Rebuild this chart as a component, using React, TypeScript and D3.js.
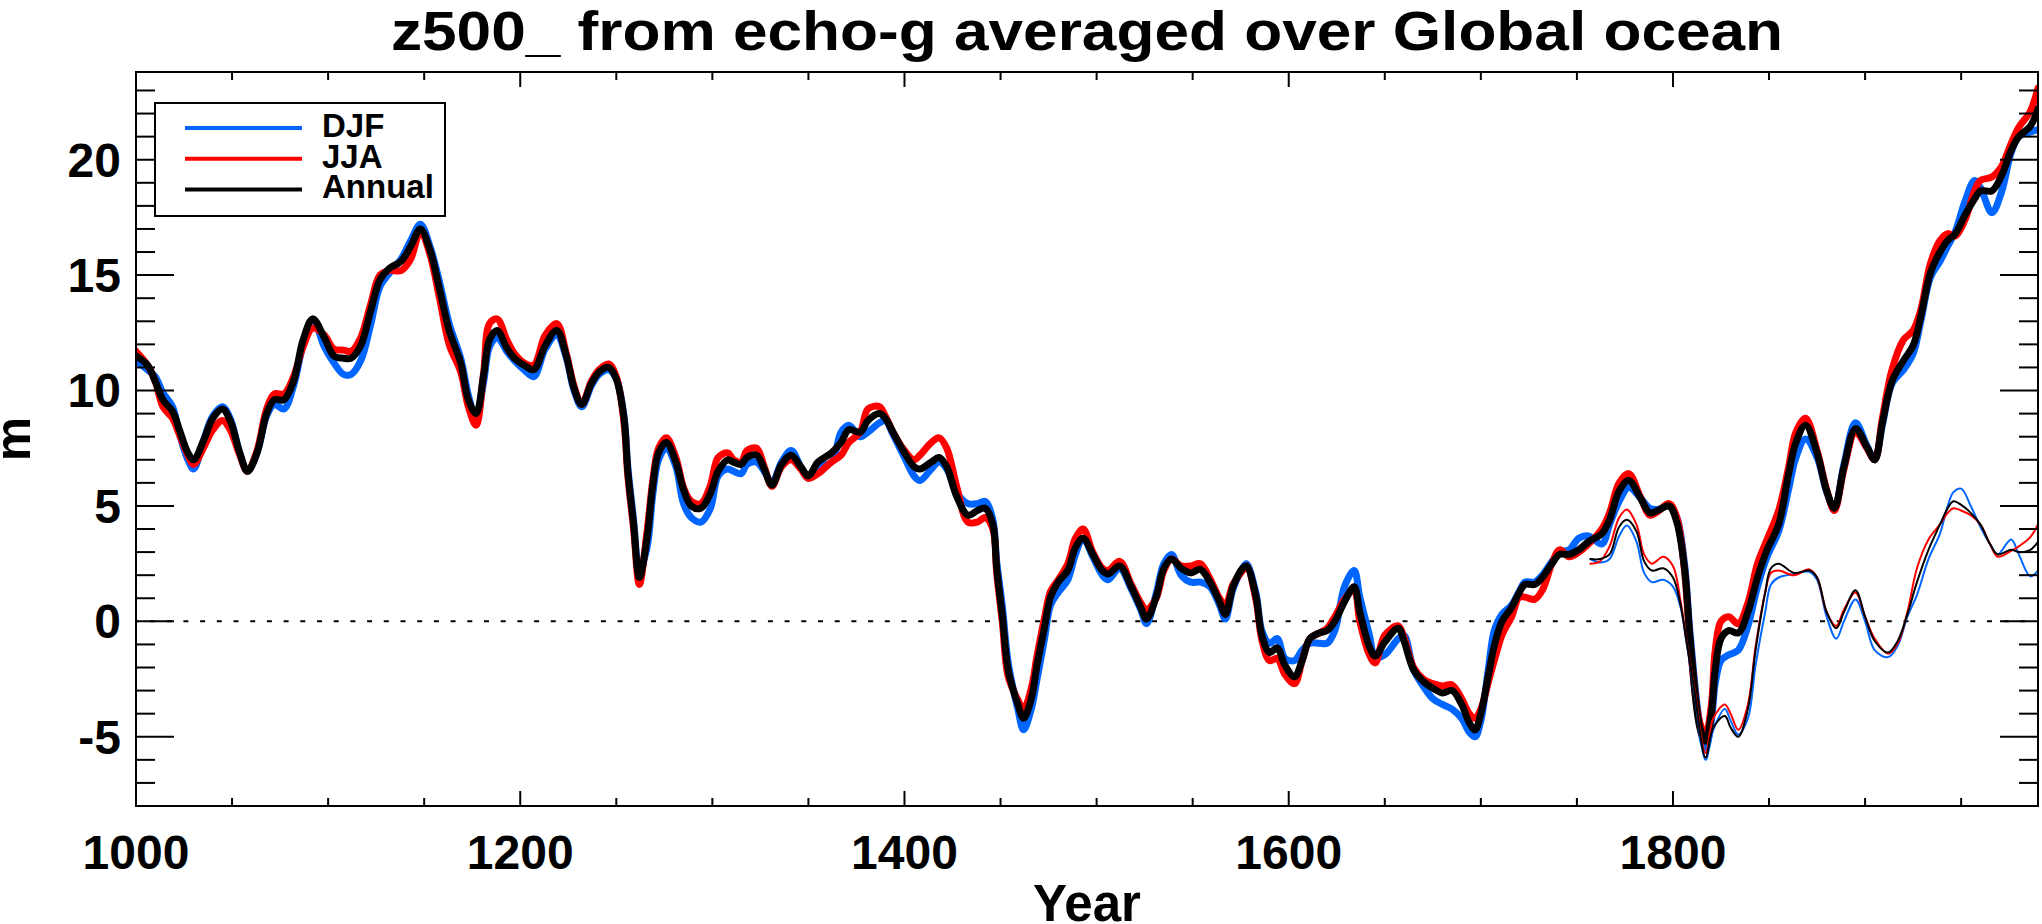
import * as d3 from 'd3'

const WIDTH = 2042
const HEIGHT = 924
const MARGIN = {top: 72, right: 4, bottom: 118, left: 136}

const TITLE = 'z500_ from echo-g averaged over Global ocean'
const SERIES_NAMES = ['DJF', 'JJA', 'Annual']
const COLORS = ['#0066ff', '#ff0000', '#000000']

// model run (thick lines)
const years = [
  1000, 1006, 1010, 1014, 1019, 1023, 1027, 1030, 1035, 1040, 1045, 1049, 1054, 1058, 1063, 1068,
  1072, 1077, 1082, 1087, 1092, 1098, 1103, 1108, 1112, 1117, 1122, 1127, 1132, 1138, 1143, 1148,
  1153, 1158, 1163, 1169, 1173, 1177, 1181, 1184, 1188, 1193, 1197, 1202, 1207, 1213, 1219, 1224,
  1228, 1232, 1237, 1241, 1246, 1250, 1254, 1256, 1259, 1262, 1266, 1269, 1272, 1276, 1281, 1285,
  1289, 1294, 1299, 1303, 1308, 1311, 1315, 1318, 1323, 1327, 1331, 1336, 1341, 1346, 1350, 1355,
  1362, 1367, 1371, 1377, 1381, 1387, 1390, 1394, 1400, 1405, 1408, 1414, 1418, 1422, 1427, 1433,
  1438, 1442, 1446, 1448, 1451, 1454, 1459, 1462, 1466, 1469, 1473, 1476, 1480, 1485, 1489, 1493,
  1498, 1503, 1506, 1512, 1518, 1523, 1526, 1531, 1535, 1539, 1544, 1549, 1554, 1559, 1564, 1567,
  1571, 1576, 1578, 1583, 1586, 1590, 1594, 1598, 1603, 1607, 1611, 1616, 1620, 1624, 1629, 1634,
  1637, 1642, 1645, 1650, 1657, 1660, 1665, 1670, 1675, 1680, 1685, 1690, 1694, 1697, 1700, 1704,
  1707, 1711, 1716, 1720, 1723, 1728, 1732, 1737, 1741, 1746, 1751, 1756, 1763, 1767, 1772, 1777,
  1783, 1788, 1792, 1798, 1802, 1806, 1809, 1814, 1817, 1820, 1822, 1825, 1829, 1834, 1839, 1844,
  1849, 1855, 1860, 1864, 1869, 1875, 1880, 1884, 1889, 1895, 1901, 1905, 1909, 1914, 1920, 1925,
  1929, 1934, 1939, 1943, 1947, 1952, 1957, 1960, 1966, 1971, 1976, 1980, 1986, 1990,
]
const djf = [
  11.3, 10.9, 10.6, 9.9, 9.3, 8.0, 7.0, 6.6, 7.8, 8.9, 9.3, 8.8, 7.3, 6.5, 7.3, 8.9,
  9.4, 9.2, 10.2, 12.0, 13.1, 11.9, 11.2, 10.7, 10.7, 11.3, 12.8, 14.5, 15.1, 15.7, 16.5, 17.2,
  16.25, 14.7, 12.9, 11.4, 9.8, 8.8, 10.4, 11.9, 12.3, 11.7, 11.3, 10.9, 10.6, 11.8, 12.4, 11.4,
  10.0, 9.3, 10.2, 10.7, 10.9, 10.5, 8.9, 6.7, 4.4, 2.2, 3.2, 5.5, 7.0, 7.5, 6.7, 5.1,
  4.5, 4.3, 4.9, 6.3, 6.6, 6.5, 6.4, 6.8, 6.9, 6.5, 6.0, 6.9, 7.4, 6.7, 6.2, 6.7,
  6.9, 8.2, 8.5, 8.0, 8.2, 8.6, 8.7, 8.1, 7.1, 6.3, 6.1, 6.6, 6.9, 6.6, 5.6, 5.1,
  5.1, 5.2, 4.4, 2.6, 0.6, -1.8, -3.8, -4.7, -3.8, -2.5, -0.7, 0.7, 1.25, 1.8, 2.9, 3.6,
  2.8, 2.0, 1.8, 2.3, 1.4, 0.5, -0.1, 1.2, 2.5, 2.9, 2.0, 1.7, 1.7, 1.5, 0.7, 0.1,
  1.4, 2.3, 2.5, 1.2, -0.4, -0.95, -0.75, -1.6, -1.7, -1.25, -0.95, -0.95, -0.95, -0.4, 1.5, 2.2,
  1.05, -0.6, -1.55, -1.45, -0.75, -0.6, -2.1, -2.8, -3.35, -3.6, -3.8, -4.2, -4.8, -5.0, -4.3, -2.0,
  -0.4, 0.3, 0.7, 1.3, 1.7, 1.7, 2.0, 2.6, 3.0, 3.1, 3.6, 3.7, 3.35, 4.2, 5.2, 5.8,
  5.35, 4.9, 4.85, 5.0, 4.5, 2.5, -0.6, -4.5, -5.5, -4.3, -2.7, -1.7, -1.45, -1.25, -0.2, 1.5,
  2.8, 3.9, 5.65, 7.1, 7.9, 7.1, 5.6, 4.9, 6.8, 8.6, 7.6, 7.0, 8.5, 10.3, 10.9, 11.6,
  13.0, 14.9, 15.6, 16.25, 16.9, 18.2, 19.1, 18.8, 17.7, 18.6, 20.3, 21.0, 21.2, 21.3,
]
const jja = [
  11.7, 11.1, 10.4, 9.3, 8.8, 8.0, 7.2, 6.8, 7.5, 8.3, 8.7, 8.3, 7.2, 6.5, 7.4, 9.2,
  9.85, 9.85, 10.6, 11.9, 12.7, 12.4, 11.8, 11.75, 11.7, 12.3, 13.7, 15.0, 15.2, 15.2, 15.7, 16.9,
  15.9, 14.0, 12.0, 10.8, 9.3, 8.5, 10.8, 12.9, 13.1, 12.2, 11.6, 11.2, 11.1, 12.4, 12.9, 11.6,
  10.2, 9.4, 10.4, 10.9, 11.15, 10.6, 8.6, 6.3, 4.0, 1.6, 3.9, 6.1, 7.5, 7.95, 7.1, 5.8,
  5.2, 5.1, 5.9, 7.1, 7.3, 7.0, 6.9, 7.4, 7.5, 6.7, 5.85, 6.7, 7.0, 6.6, 6.2, 6.4,
  6.9, 7.2, 7.75, 8.2, 9.2, 9.3, 8.9, 8.2, 7.4, 7.0, 7.2, 7.75, 7.95, 7.5, 5.9, 4.3,
  4.3, 4.5, 4.0, 2.1, -0.1, -2.4, -3.4, -3.8, -2.9, -1.5, 0.2, 1.3, 1.8, 2.5, 3.6, 4.0,
  3.0, 2.3, 2.2, 2.6, 1.6, 0.8, 0.5, 1.0, 2.2, 2.7, 2.4, 2.4, 2.5, 1.85, 1.0, 0.7,
  1.6, 2.2, 2.4, 0.9, -0.8, -1.7, -1.6, -2.3, -2.7, -1.7, -0.75, -0.5, -0.3, 0.2, 0.95, 1.35,
  0.0, -1.45, -1.8, -0.6, -0.2, -0.7, -2.0, -2.5, -2.7, -2.8, -2.75, -3.35, -4.0, -4.2, -3.8, -2.6,
  -1.7, -0.6, 0.2, 1.05, 1.05, 0.95, 1.35, 2.5, 3.1, 2.8, 3.0, 3.35, 4.0, 4.7, 6.0, 6.4,
  5.4, 4.6, 4.75, 5.1, 4.5, 2.2, -1.0, -4.4, -4.9, -3.6, -1.25, 0.0, 0.2, -0.1, 0.8, 2.5,
  3.55, 4.8, 6.6, 8.2, 8.8, 7.4, 5.7, 4.8, 6.6, 8.2, 7.5, 7.0, 8.8, 10.9, 12.2, 12.6,
  13.5, 15.5, 16.5, 16.8, 16.7, 17.4, 18.65, 19.1, 19.25, 19.7, 20.7, 21.4, 22.1, 23.1,
]
const annual = [
  11.5, 11.1, 10.4, 9.6, 9.1, 8.2, 7.3, 7.0, 7.8, 8.8, 9.2, 8.7, 7.3, 6.5, 7.3, 9.0,
  9.6, 9.6, 10.4, 12.2, 13.1, 12.3, 11.5, 11.4, 11.4, 11.95, 13.4, 14.8, 15.3, 15.6, 16.25, 17.0,
  16.1, 14.4, 12.6, 11.2, 9.6, 9.0, 10.7, 12.2, 12.6, 11.85, 11.4, 11.1, 10.9, 11.95, 12.6, 11.5,
  10.1, 9.4, 10.3, 10.8, 11.0, 10.5, 8.8, 6.5, 4.2, 1.9, 3.6, 5.9, 7.3, 7.75, 6.9, 5.7,
  5.0, 4.9, 5.55, 6.5, 7.0, 6.9, 6.8, 7.1, 7.2, 6.6, 5.9, 6.8, 7.2, 6.7, 6.3, 6.9,
  7.3, 7.75, 8.3, 8.2, 8.7, 9.0, 8.8, 8.2, 7.3, 6.7, 6.6, 6.9, 7.1, 6.7, 5.45, 4.6,
  4.8, 4.9, 4.2, 2.3, 0.2, -2.1, -3.6, -4.2, -3.35, -1.9, -0.2, 1.05, 1.7, 2.2, 3.2, 3.6,
  2.9, 2.2, 2.05, 2.4, 1.5, 0.6, 0.1, 1.05, 2.3, 2.7, 2.3, 2.1, 2.25, 1.7, 0.85, 0.3,
  1.5, 2.3, 2.4, 1.05, -0.6, -1.35, -1.15, -1.9, -2.4, -1.7, -0.75, -0.5, -0.4, 0.0, 0.85, 1.5,
  0.4, -1.1, -1.5, -0.9, -0.3, -0.85, -2.1, -2.6, -2.9, -3.1, -3.0, -3.6, -4.4, -4.7, -4.0, -2.3,
  -1.05, 0.0, 0.6, 1.25, 1.6, 1.6, 1.9, 2.5, 2.9, 2.9, 3.1, 3.45, 3.8, 4.4, 5.65, 6.1,
  5.35, 4.7, 4.8, 5.0, 4.3, 2.3, -0.85, -4.6, -5.2, -4.0, -2.1, -0.75, -0.4, -0.5, 0.4, 1.9,
  3.1, 4.2, 6.3, 7.75, 8.5, 7.3, 5.65, 4.9, 6.7, 8.35, 7.55, 7.0, 8.6, 10.4, 11.3, 11.95,
  13.2, 15.1, 16.0, 16.5, 16.8, 17.6, 18.3, 18.65, 18.65, 19.3, 20.4, 21.0, 21.45, 22.2,
]

// second set (thin lines, from the 1750s)
const obsYears = [
  1757, 1762, 1767, 1772, 1776, 1781, 1785, 1789, 1795, 1800, 1804, 1807, 1811, 1817, 1821, 1827,
  1830, 1834, 1839, 1843, 1848, 1851, 1855, 1863, 1871, 1875, 1880, 1885, 1889, 1895, 1900, 1905,
  1912, 1917, 1922, 1927, 1933, 1939, 1943, 1946, 1950, 1955, 1960, 1965, 1969, 1976, 1980, 1986,
  1990,
]
const obsDjf = [
  2.7, 2.55, 2.7, 3.7, 4.15, 3.45, 2.1, 1.7, 1.8, 1.5, 0.6, -0.9, -3.0, -6.0, -4.7, -3.8,
  -4.3, -4.9, -4.2, -1.9, 0.4, 1.6, 1.9, 2.05, 2.15, 1.8, 0.2, -0.75, 0.0, 0.95, 0.0, -1.25,
  -1.55, -1.05, 0.2, 1.15, 2.7, 3.8, 5.0, 5.6, 5.75, 5.0, 4.1, 3.35, 2.9, 3.55, 2.9, 1.95,
  2.2,
]
const obsJja = [
  2.5, 2.6, 3.25, 4.5, 4.85, 4.2, 2.9, 2.5, 2.8, 2.4, 0.85, -0.8, -2.8, -5.7, -4.2, -3.6,
  -4.0, -4.7, -3.6, -1.1, 1.25, 2.1, 2.2, 2.0, 2.25, 1.9, 0.4, -0.2, 0.5, 1.25, 0.2, -0.75,
  -1.4, -0.95, 0.4, 2.3, 3.55, 4.2, 4.7, 4.9, 4.8, 4.6, 4.2, 3.35, 2.8, 3.05, 3.25, 3.65,
  4.2,
]
const obsAnnual = [
  2.7, 2.7, 2.9, 4.1, 4.4, 3.9, 2.6, 2.2, 2.3, 1.9, 0.7, -0.85, -2.9, -5.9, -4.6, -4.1,
  -4.6, -5.0, -3.8, -1.25, 1.25, 2.3, 2.5, 2.1, 2.2, 1.9, 0.4, -0.3, 0.4, 1.35, 0.2, -0.85,
  -1.35, -0.85, 0.3, 1.7, 3.1, 4.2, 4.9, 5.2, 5.05, 4.7, 4.2, 3.35, 2.9, 3.1, 3.0, 3.1,
  3.45,
]

const X_DOMAIN = [1000, 1990]
const Y_DOMAIN = [-8, 23.8]
const X_MAJOR = [1000, 1200, 1400, 1600, 1800]
const Y_MAJOR = [-5, 0, 5, 10, 15, 20]

const FONT = '"Liberation Sans", Arial, Helvetica, sans-serif'

export default function App() {
  const boundsWidth = WIDTH - MARGIN.left - MARGIN.right
  const boundsHeight = HEIGHT - MARGIN.top - MARGIN.bottom
  const left = MARGIN.left
  const right = MARGIN.left + boundsWidth
  const top = MARGIN.top
  const bottom = MARGIN.top + boundsHeight

  const xScale = d3.scaleLinear().domain(X_DOMAIN).range([left, right])
  const yScale = d3.scaleLinear().domain(Y_DOMAIN).range([bottom, top])

  const line = d3
    .line<[number, number]>()
    .x(d => xScale(d[0]))
    .y(d => yScale(d[1]))
    .curve(d3.curveCatmullRom.alpha(0.5))

  const thick = [djf, jja, annual].map(vals => line(years.map((y, i) => [y, vals[i]])))
  const thin = [obsDjf, obsJja, obsAnnual].map(vals => line(obsYears.map((y, i) => [y, vals[i]])))

  const xMinor = d3.range(1050, 1990, 50).filter(v => !X_MAJOR.includes(v))
  const yMinor = d3.range(-7, 24, 1).filter(v => !Y_MAJOR.includes(v))

  // tick lengths like IDL: fraction of the plot size
  const xMajorLen = 15
  const xMinorLen = 8
  const yMajorLen = 38
  const yMinorLen = 19

  const legend = {x: 155, y: 103, w: 290, h: 113, lineX1: 185, lineX2: 302, textX: 322, row0: 128, dy: 30.7}

  return (
    <div style={{position: 'absolute', left: 0, top: 0, background: '#fff'}}>
      <svg width={WIDTH} height={HEIGHT} style={{display: 'block'}} fontFamily={FONT}>
        <rect x={0} y={0} width={WIDTH} height={HEIGHT} fill="#fff" />
        {/* title is a bit wider than the stock font, stretch it */}
        <text
          transform={`translate(${(left + right) / 2},50) scale(1.11,1)`}
          textAnchor="middle"
          fontSize={56}
          fontWeight="bold">
          {TITLE}
        </text>

        <defs>
          <clipPath id="plot-clip">
            <rect x={left} y={top} width={boundsWidth} height={boundsHeight} />
          </clipPath>
        </defs>

        {/* zero line */}
        <line
          x1={left}
          x2={right}
          y1={yScale(0)}
          y2={yScale(0)}
          stroke="#000"
          strokeWidth={2}
          strokeDasharray="5 11.7"
          strokeDashoffset={-14}
        />

        <g clipPath="url(#plot-clip)" fill="none" strokeLinejoin="round" strokeLinecap="round">
          {thick.map((d, i) => (
            <path key={'k' + i} d={d ?? ''} stroke={COLORS[i]} strokeWidth={7} />
          ))}
          {thin.map((d, i) => (
            <path key={'n' + i} d={d ?? ''} stroke={COLORS[i]} strokeWidth={2} />
          ))}
        </g>

        {/* frame */}
        <rect x={left} y={top} width={boundsWidth} height={boundsHeight} fill="none" stroke="#000" strokeWidth={2} />

        {/* x ticks, bottom and top */}
        {X_MAJOR.map(v => (
          <g key={'xM' + v}>
            <line x1={xScale(v)} x2={xScale(v)} y1={bottom} y2={bottom - xMajorLen} stroke="#000" strokeWidth={2} />
            <line x1={xScale(v)} x2={xScale(v)} y1={top} y2={top + xMajorLen} stroke="#000" strokeWidth={2} />
            <text x={xScale(v)} y={869} textAnchor="middle" fontSize={48} fontWeight="bold">
              {v}
            </text>
          </g>
        ))}
        {xMinor.map(v => (
          <g key={'xm' + v}>
            <line x1={xScale(v)} x2={xScale(v)} y1={bottom} y2={bottom - xMinorLen} stroke="#000" strokeWidth={2} />
            <line x1={xScale(v)} x2={xScale(v)} y1={top} y2={top + xMinorLen} stroke="#000" strokeWidth={2} />
          </g>
        ))}

        {/* y ticks, left and right */}
        {Y_MAJOR.map(v => (
          <g key={'yM' + v}>
            <line x1={left} x2={left + yMajorLen} y1={yScale(v)} y2={yScale(v)} stroke="#000" strokeWidth={2} />
            <line x1={right} x2={right - yMajorLen} y1={yScale(v)} y2={yScale(v)} stroke="#000" strokeWidth={2} />
            <text x={121} y={yScale(v)} dy="0.35em" textAnchor="end" fontSize={48} fontWeight="bold">
              {v}
            </text>
          </g>
        ))}
        {yMinor.map(v => (
          <g key={'ym' + v}>
            <line x1={left} x2={left + yMinorLen} y1={yScale(v)} y2={yScale(v)} stroke="#000" strokeWidth={2} />
            <line x1={right} x2={right - yMinorLen} y1={yScale(v)} y2={yScale(v)} stroke="#000" strokeWidth={2} />
          </g>
        ))}

        <text x={(left + right) / 2} y={921} textAnchor="middle" fontSize={51} fontWeight="bold">
          Year
        </text>
        <text
          transform={`translate(${30},${(top + bottom) / 2}) rotate(-90)`}
          textAnchor="middle"
          fontSize={50}
          fontWeight="bold">
          m
        </text>

        {/* legend */}
        <rect x={legend.x} y={legend.y} width={legend.w} height={legend.h} fill="#fff" stroke="#000" strokeWidth={2} />
        {SERIES_NAMES.map((name, i) => (
          <g key={name}>
            <line
              x1={legend.lineX1}
              x2={legend.lineX2}
              y1={legend.row0 + i * legend.dy}
              y2={legend.row0 + i * legend.dy}
              stroke={COLORS[i]}
              strokeWidth={4}
            />
            <text x={legend.textX} y={legend.row0 + i * legend.dy + 9} fontSize={33} fontWeight="bold">
              {name}
            </text>
          </g>
        ))}
      </svg>
    </div>
  )
}
